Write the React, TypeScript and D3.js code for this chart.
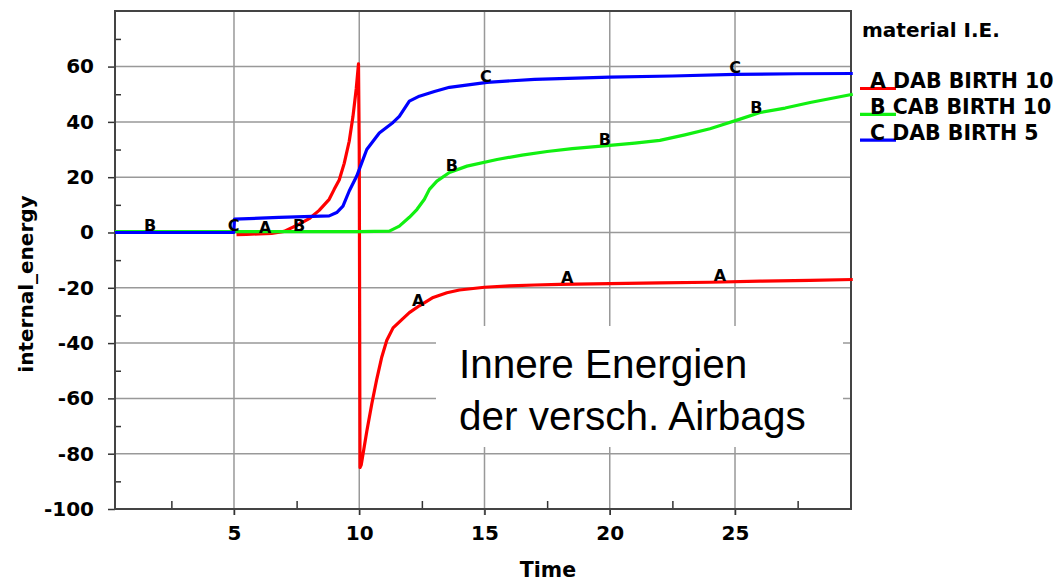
import React, { useEffect, useRef } from 'react';
import * as d3 from 'd3';

const width = 1061;
const height = 582;
const plot = { left: 115, right: 851, top: 11, bottom: 509 };

// values
const timeA = [5.1, 5.5, 6.0, 6.5, 7.0, 7.6, 8.0, 8.4, 8.8, 9.0, 9.2, 9.4, 9.6, 9.75, 9.88, 9.97, 10.0, 10.03, 10.08, 10.3, 10.5, 10.7, 10.9, 11.1, 11.35, 11.7, 12.0, 12.4, 12.95, 13.5, 14.0, 15.0, 16.0, 17.0, 18.0, 20.0, 22.0, 24.0, 26.0, 28.0, 29.7];
const valA = [-0.8, -0.7, -0.5, -0.3, 0.4, 3, 5, 8, 12, 15.6, 19, 25, 33, 42, 52, 61, 30, -85, -84, -72, -62, -53, -45, -39, -34.5, -31.5, -29, -26.5, -23.5, -21.8, -20.8, -19.8, -19.3, -19, -18.8, -18.5, -18.2, -18, -17.6, -17.3, -17.0];

const timeB = [0.25, 5, 10, 11.2, 11.6, 12.0, 12.3, 12.6, 12.8, 13.1, 13.6, 14.3, 15.5, 16.5, 17.5, 18.5, 20, 21, 22, 23, 24, 24.5, 25.2, 26, 27, 28, 29.7];
const valB = [0.3, 0.3, 0.3, 0.5, 2.3, 5.5, 8.3, 12, 15.6, 18.6, 21.7, 24, 26.4, 28, 29.3, 30.3, 31.5, 32.3, 33.3, 35.3, 37.5, 39, 41, 43.4, 45, 47, 50];

const timeC = [0.25, 4.99, 5.02, 6.8, 8.8, 9.1, 9.35, 9.6, 9.9, 10.3, 10.8, 11.35, 11.6, 12.0, 12.4, 13.0, 13.6, 15.1, 17, 20, 22.5, 25, 27.5, 29.7];
const valC = [0, 0, 4.8, 5.5, 6.0, 7.2, 9.5, 15, 20.4, 30, 36, 39.8, 42, 47.5, 49.3, 51, 52.5, 54.3, 55.4, 56.2, 56.6, 57.2, 57.4, 57.5];

const markA = [6.25, 12.35, 18.3, 24.4];
const markB = [1.65, 7.6, 13.7, 19.8, 25.85];
const markC = [4.99, 15.05, 25.0];

const xTicks = [5, 10, 15, 20, 25];
const xMinor = [2.5, 7.5, 12.5, 17.5, 22.5, 27.5];
const yTicks = [-100, -80, -60, -40, -20, 0, 20, 40, 60];
const yMinor = [-90, -70, -50, -30, -10, 10, 30, 50, 70];

const series = [
  { key: 'A', label: 'A DAB BIRTH 10', t: timeA, v: valA, marks: markA, color: '#ff0000' },
  { key: 'B', label: 'B CAB BIRTH 10', t: timeB, v: valB, marks: markB, color: '#11f011' },
  { key: 'C', label: 'C DAB BIRTH 5', t: timeC, v: valC, marks: markC, color: '#0000ff' },
];

const bold = 'DejaVu Sans, sans-serif';

export default function App() {
  const ref = useRef<SVGSVGElement>(null);

  useEffect(() => {
    const svg = d3.select(ref.current);
    svg.selectAll('*').remove();

    const x = d3.scaleLinear().domain([0.25, 29.63]).range([plot.left, plot.right]);
    const y = d3.scaleLinear().domain([-100, 80.1]).range([plot.bottom, plot.top]);

    svg.append('rect').attr('width', width).attr('height', height).attr('fill', '#fff');

    // grid
    const grid = svg.append('g').attr('stroke', '#999').attr('stroke-width', 1.5);
    grid.selectAll('line.gx').data(xTicks).enter().append('line')
      .attr('x1', (d) => x(d)).attr('x2', (d) => x(d))
      .attr('y1', plot.top).attr('y2', plot.bottom + 6);
    grid.selectAll('line.gy').data(yTicks.filter((d) => d > -100)).enter().append('line')
      .attr('x1', plot.left).attr('x2', plot.right)
      .attr('y1', (d) => y(d)).attr('y2', (d) => y(d));

    // axes
    const yAxis = svg.append('g')
      .attr('transform', `translate(${plot.left},0)`)
      .call(d3.axisLeft(y).tickValues(yTicks).tickSize(7).tickPadding(14).tickFormat((d) => String(d)));
    const yMin = svg.append('g')
      .attr('transform', `translate(${plot.left},0)`)
      .call(d3.axisLeft(y).tickValues(yMinor).tickSize(-6).tickFormat(() => ''));
    const xAxis = svg.append('g')
      .attr('transform', `translate(0,${plot.bottom})`)
      .call(d3.axisBottom(x).tickValues(xTicks).tickSize(6).tickPadding(11).tickFormat((d) => String(d)));
    const xMin = svg.append('g')
      .attr('transform', `translate(0,${plot.bottom})`)
      .call(d3.axisBottom(x).tickValues(xMinor).tickSize(-8).tickFormat(() => ''));
    [yAxis, yMin, xAxis, xMin].forEach((g) => {
      g.select('.domain').remove();
      g.selectAll('line').attr('stroke', '#333').attr('stroke-width', 1.5);
      g.selectAll('text')
        .attr('font-family', bold).attr('font-weight', 'bold').attr('font-size', 20).attr('fill', '#000');
    });

    // white box behind the caption
    svg.append('rect').attr('x', 436).attr('y', 326).attr('width', 407).attr('height', 121).attr('fill', '#fff');
    const cap = svg.append('text').attr('font-family', 'Liberation Sans, Arial, sans-serif').attr('font-size', 40.5).attr('fill', '#000');
    cap.append('tspan').attr('x', 459).attr('y', 378).text('Innere Energien');
    cap.append('tspan').attr('x', 459).attr('y', 430).text('der versch. Airbags');

    // frame
    svg.append('rect')
      .attr('x', plot.left).attr('y', plot.top)
      .attr('width', plot.right - plot.left).attr('height', plot.bottom - plot.top)
      .attr('fill', 'none').attr('stroke', '#444').attr('stroke-width', 2);

    // curves
    series.forEach((s) => {
      const pts = s.t.map((t, i) => [x(t), y(s.v[i])] as [number, number]);
      svg.append('path')
        .attr('d', d3.line()(pts))
        .attr('fill', 'none').attr('stroke', s.color).attr('stroke-width', 3.2)
        .attr('stroke-linejoin', 'round');
    });

    // curve letters
    series.forEach((s) => {
      const interp = d3.scaleLinear().domain(s.t).range(s.v);
      svg.selectAll(null).data(s.marks).enter().append('text')
        .attr('x', (d) => x(d)).attr('y', (d) => y(interp(d)) - 1)
        .attr('text-anchor', 'middle')
        .attr('font-family', bold).attr('font-weight', 'bold').attr('font-size', 16)
        .text(s.key);
    });

    // axis titles
    svg.append('text').attr('x', 548).attr('y', 577).attr('text-anchor', 'middle')
      .attr('font-family', bold).attr('font-weight', 'bold').attr('font-size', 20.5).text('Time');
    svg.append('text').attr('transform', 'translate(33,284) rotate(-90)').attr('text-anchor', 'middle')
      .attr('font-family', bold).attr('font-weight', 'bold').attr('font-size', 20).text('internal_energy');

    // legend
    svg.append('text').attr('x', 862).attr('y', 37)
      .attr('font-family', bold).attr('font-weight', 'bold').attr('font-size', 20).text('material I.E.');
    series.forEach((s, i) => {
      const ly = 88 + i * 25.8;
      svg.append('line').attr('x1', 860).attr('x2', 896).attr('y1', ly + 0.5).attr('y2', ly + 0.5)
        .attr('stroke', s.color).attr('stroke-width', 3.2);
      svg.append('text').attr('x', 870).attr('y', ly)
        .attr('font-family', bold).attr('font-weight', 'bold').attr('font-size', 20.5)
        .text(s.label);
    });
  }, []);

  return (
    <svg ref={ref} width={width} height={height} style={{ position: 'absolute', left: 0, top: 0 }} />
  );
}
